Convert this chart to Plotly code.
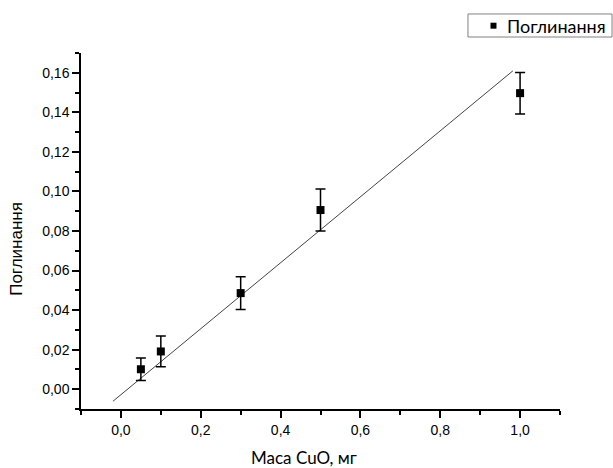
import plotly.graph_objects as go

# Measured absorbance vs. CuO mass
mass_mg = [0.05, 0.1, 0.3, 0.5, 1.0]
absorbance = [0.0101, 0.0191, 0.0486, 0.0906, 0.1497]
absorbance_err = [0.0057, 0.0078, 0.0083, 0.0106, 0.0105]

# Calibration line end points
fit_x = [-0.02, 0.982]
fit_y = [-0.0061, 0.161]

x_ticks = [0.0, 0.2, 0.4, 0.6, 0.8, 1.0]
y_ticks = [0.00, 0.02, 0.04, 0.06, 0.08, 0.10, 0.12, 0.14, 0.16]

series_name = "Поглинання"

fig = go.Figure()

fig.add_trace(go.Scatter(
    x=fit_x, y=fit_y, mode="lines",
    line=dict(color="#444444", width=1),
    showlegend=False, hoverinfo="skip",
))

fig.add_trace(go.Scatter(
    x=mass_mg, y=absorbance, mode="markers",
    name=series_name, showlegend=False,
    marker=dict(symbol="square", size=8, color="black"),
    error_y=dict(type="data", array=absorbance_err, visible=True,
                 color="black", thickness=1.5, width=5),
))

axis_common = dict(
    showline=True, linecolor="black", linewidth=1.5,
    ticks="outside", ticklen=7, tickwidth=1.5, tickcolor="black",
    showgrid=False, zeroline=False, mirror=False,
    tickfont=dict(family="Arial", size=14, color="black"),
)

fig.update_xaxes(
    range=[-0.1, 1.1], tickvals=x_ticks, tickformat=".1f",
    minor=dict(dtick=0.1, tick0=0, ticks="outside", ticklen=4, tickwidth=1.5, tickcolor="black"),
    **axis_common,
)
fig.update_yaxes(
    range=[-0.01, 0.17], tickvals=y_ticks, tickformat=".2f",
    minor=dict(dtick=0.01, tick0=0, ticks="outside", ticklen=4, tickwidth=1.5, tickcolor="black"),
    **axis_common,
)

# Axis titles
fig.add_annotation(
    text="Маса CuO, мг", xref="paper", yref="paper",
    x=0.4656, y=-0.137, xanchor="center", yanchor="middle",
    showarrow=False, font=dict(family="Lato", size=17, color="black"),
)
fig.add_annotation(
    text="Поглинання", xref="paper", yref="paper", textangle=-90,
    x=-0.1336, y=0.45, xanchor="center", yanchor="middle",
    showarrow=False, font=dict(family="Arial", size=17, color="black"),
)

# Legend box: frame, marker swatch and label
fig.add_shape(type="rect", xref="paper", yref="paper",
              x0=0.8079, x1=1.1086, y0=1.0449, y1=1.1096,
              line=dict(color="#808080", width=1), fillcolor="white")
fig.add_shape(type="rect", xref="paper", yref="paper",
              x0=0.8549, x1=0.8674, y0=1.0683, y1=1.0851,
              line=dict(width=0), fillcolor="black")
fig.add_annotation(
    text=series_name, xref="paper", yref="paper",
    x=0.8852, y=1.0745, xanchor="left", yanchor="middle",
    showarrow=False, font=dict(family="Lato", size=18, color="black"),
)

fig.update_layout(
    width=613, height=468,
    margin=dict(l=81, r=53, t=53, b=59),
    paper_bgcolor="white", plot_bgcolor="white",
    separators=", ",
    showlegend=False,
)

fig.write_html("out.html")
